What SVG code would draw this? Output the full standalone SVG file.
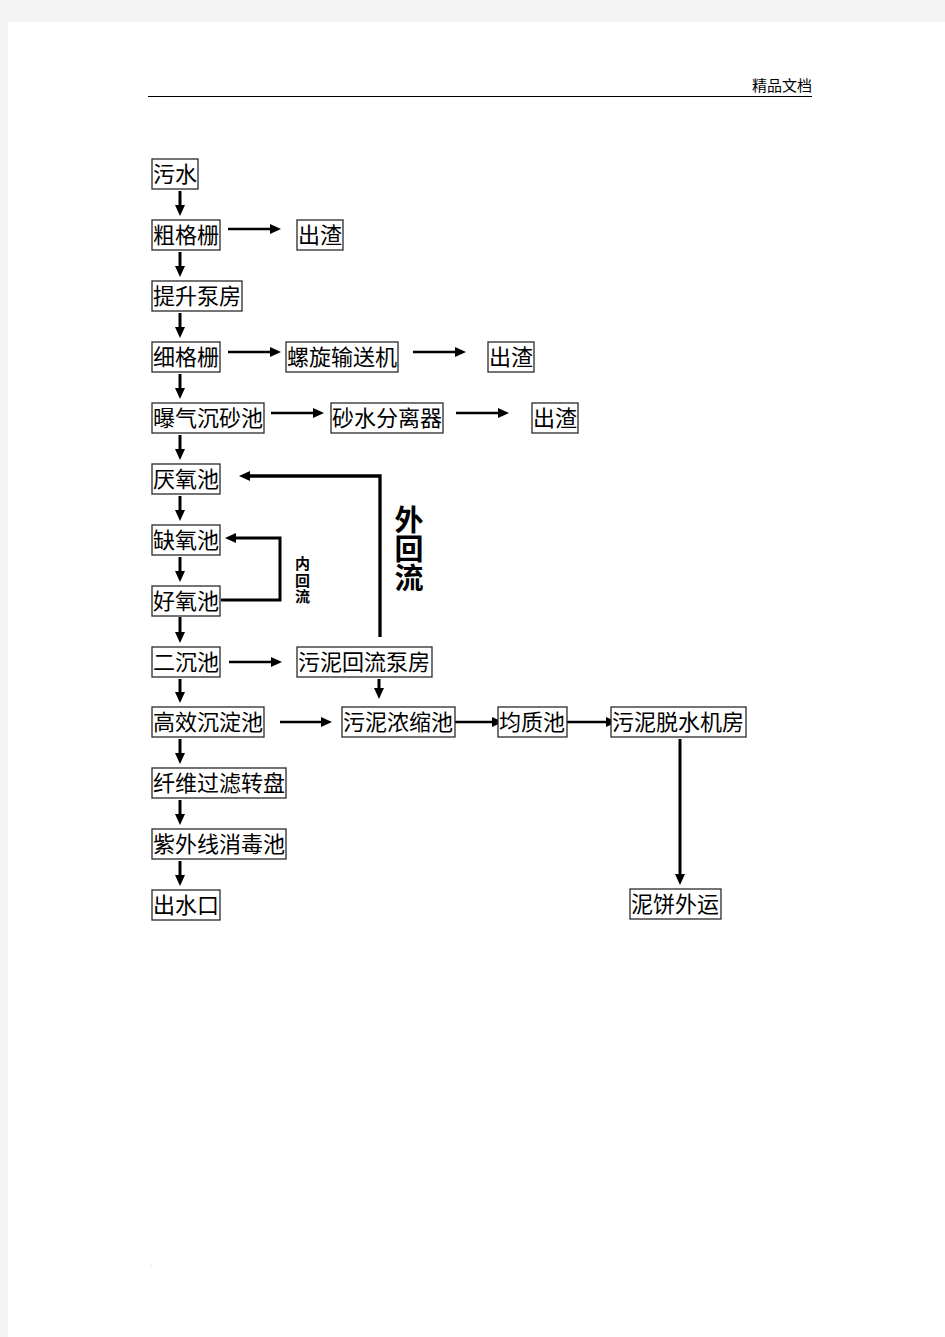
<svg xmlns="http://www.w3.org/2000/svg" width="945" height="1337" viewBox="0 0 945 1337">
<style>
.bx{fill:#fff;stroke:#2a2a2a;stroke-width:1.3}
.t{font-family:"Noto Sans CJK SC","Noto Sans CJK JP",sans-serif;font-size:22px;fill:#000}
.c{fill:none;stroke:#000;stroke-width:3}
.h{fill:none;stroke:#000;stroke-width:2.4}
.vt{font-family:"Noto Sans CJK SC","Noto Sans CJK JP",sans-serif;font-weight:bold;fill:#000;writing-mode:vertical-rl}
</style>
<defs>
<marker id="ah" viewBox="0 0 11 10" refX="1" refY="5" markerWidth="11" markerHeight="10" markerUnits="userSpaceOnUse" orient="auto">
<path d="M0,0 L11,5 L0,10 z" fill="#000"/>
</marker>
</defs>
<rect x="0" y="0" width="945" height="1337" fill="#f3f3f3"/>
<rect x="8" y="22" width="937" height="1315" fill="#fff"/>
<g id="header">
<text x="752" y="91" style="font-family:'Noto Sans CJK SC',sans-serif;font-size:15px;fill:#000">精品文档</text>
<line x1="148" y1="96.5" x2="812" y2="96.5" stroke="#000" stroke-width="1.2"/>
</g>
<g id="connectors">
<line class="c" x1="180" y1="191" x2="180" y2="206" marker-end="url(#ah)"/>
<line class="c" x1="180" y1="252" x2="180" y2="267" marker-end="url(#ah)"/>
<line class="c" x1="180" y1="313" x2="180" y2="328" marker-end="url(#ah)"/>
<line class="c" x1="180" y1="374" x2="180" y2="389" marker-end="url(#ah)"/>
<line class="c" x1="180" y1="435" x2="180" y2="450" marker-end="url(#ah)"/>
<line class="c" x1="180" y1="496" x2="180" y2="511" marker-end="url(#ah)"/>
<line class="c" x1="180" y1="557" x2="180" y2="572" marker-end="url(#ah)"/>
<line class="c" x1="180" y1="617" x2="180" y2="633" marker-end="url(#ah)"/>
<line class="c" x1="180" y1="679" x2="180" y2="693" marker-end="url(#ah)"/>
<line class="c" x1="180" y1="739" x2="180" y2="754" marker-end="url(#ah)"/>
<line class="c" x1="180" y1="800" x2="180" y2="815" marker-end="url(#ah)"/>
<line class="c" x1="180" y1="861" x2="180" y2="876" marker-end="url(#ah)"/>
<line class="h" x1="228" y1="229" x2="271" y2="229" marker-end="url(#ah)"/>
<line class="h" x1="228" y1="352" x2="271" y2="352" marker-end="url(#ah)"/>
<line class="h" x1="413" y1="352" x2="456" y2="352" marker-end="url(#ah)"/>
<line class="h" x1="271" y1="413" x2="314" y2="413" marker-end="url(#ah)"/>
<line class="h" x1="456" y1="413" x2="499" y2="413" marker-end="url(#ah)"/>
<line class="h" x1="229" y1="662" x2="272" y2="662" marker-end="url(#ah)"/>
<line class="c" x1="379" y1="679" x2="379" y2="689" marker-end="url(#ah)"/>
<line class="h" x1="280" y1="722" x2="322" y2="722" marker-end="url(#ah)"/>
<line class="h" x1="455" y1="722" x2="493" y2="722" marker-end="url(#ah)"/>
<line class="h" x1="567" y1="722" x2="607" y2="722" marker-end="url(#ah)"/>
<line class="c" x1="680" y1="739" x2="680" y2="875" marker-end="url(#ah)"/>
<polyline class="c" points="380,637 380,476 249,476" marker-end="url(#ah)" style="stroke-width:3.3"/>
<polyline class="c" points="221,600 280,600 280,538 235,538" marker-end="url(#ah)"/>
</g>
<g id="labels">
<text class="vt" style="font-size:29px" x="409" y="505">外回流</text>
<text class="vt" style="font-size:15px;letter-spacing:1.5px" x="302.5" y="556">内回流</text>
</g>
<g id="n1"><rect class="bx" x="152" y="159" width="46" height="30"/><text class="t" x="153" y="182">污水</text></g>
<g id="n2"><rect class="bx" x="152" y="220" width="68" height="30"/><text class="t" x="153" y="243">粗格栅</text></g>
<g id="n3"><rect class="bx" x="297" y="220" width="46" height="30"/><text class="t" x="298" y="243">出渣</text></g>
<g id="n4"><rect class="bx" x="152" y="281" width="90" height="30"/><text class="t" x="153" y="304">提升泵房</text></g>
<g id="n5"><rect class="bx" x="152" y="342" width="68" height="30"/><text class="t" x="153" y="365">细格栅</text></g>
<g id="n6"><rect class="bx" x="286" y="342" width="112" height="30"/><text class="t" x="287" y="365">螺旋输送机</text></g>
<g id="n7"><rect class="bx" x="488" y="342" width="46" height="30"/><text class="t" x="489" y="365">出渣</text></g>
<g id="n8"><rect class="bx" x="152" y="403" width="112" height="30"/><text class="t" x="153" y="426">曝气沉砂池</text></g>
<g id="n9"><rect class="bx" x="331" y="403" width="112" height="30"/><text class="t" x="332" y="426">砂水分离器</text></g>
<g id="n10"><rect class="bx" x="532" y="403" width="46" height="30"/><text class="t" x="533" y="426">出渣</text></g>
<g id="n11"><rect class="bx" x="152" y="464" width="68" height="30"/><text class="t" x="153" y="487">厌氧池</text></g>
<g id="n12"><rect class="bx" x="152" y="525" width="68" height="30"/><text class="t" x="153" y="548">缺氧池</text></g>
<g id="n13"><rect class="bx" x="152" y="586" width="68" height="30"/><text class="t" x="153" y="609">好氧池</text></g>
<g id="n14"><rect class="bx" x="152" y="647" width="68" height="30"/><text class="t" x="153" y="670">二沉池</text></g>
<g id="n15"><rect class="bx" x="297" y="647" width="135" height="30"/><text class="t" x="298" y="670">污泥回流泵房</text></g>
<g id="n16"><rect class="bx" x="152" y="707" width="112" height="30"/><text class="t" x="153" y="730">高效沉淀池</text></g>
<g id="n17"><rect class="bx" x="342" y="707" width="113" height="30"/><text class="t" x="343" y="730">污泥浓缩池</text></g>
<g id="n18"><rect class="bx" x="498" y="707" width="69" height="30"/><text class="t" x="499" y="730">均质池</text></g>
<g id="n19"><rect class="bx" x="611" y="707" width="135" height="30"/><text class="t" x="612" y="730">污泥脱水机房</text></g>
<g id="n20"><rect class="bx" x="152" y="768" width="134" height="30"/><text class="t" x="153" y="791">纤维过滤转盘</text></g>
<g id="n21"><rect class="bx" x="152" y="829" width="134" height="30"/><text class="t" x="153" y="852">紫外线消毒池</text></g>
<g id="n22"><rect class="bx" x="152" y="890" width="68" height="30"/><text class="t" x="153" y="913">出水口</text></g>
<g id="n23"><rect class="bx" x="630" y="889" width="91" height="30"/><text class="t" x="631" y="912">泥饼外运</text></g>
<text x="150" y="1266" style="font-family:'Liberation Sans',sans-serif;font-size:6px;fill:#4a6fa5">.</text>
</svg>
